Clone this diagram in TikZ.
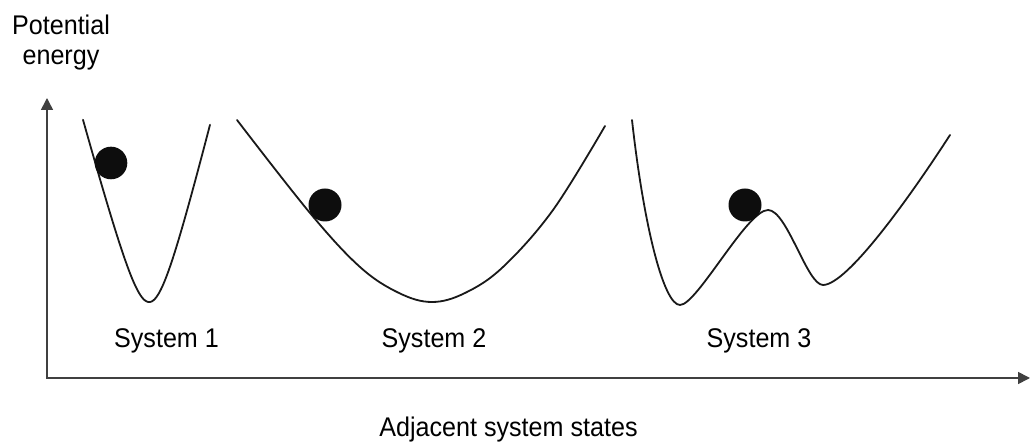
\documentclass[tikz,border=0pt]{standalone}
\usepackage{fontspec}
\setmainfont{Liberation Sans}
\usepackage{tikz}
\usetikzlibrary{arrows.meta, positioning}

\tikzset{
    curve/.style={line width=1.8pt, black!90, line cap=round, line join=round},
    ball/.style={fill=black!95},
    lbl/.style={inner sep=0pt, xscale=0.93, font=\fontsize{27}{30}\selectfont},
}

\begin{document}
\begin{tikzpicture}[x=1pt, y=1pt, >={Triangle[length=12pt, width=12pt]}]

    % =================================================================
    % 1. FRAME AND AXES (origin at the corner of the axes)
    % =================================================================
    \useasboundingbox (-47,-65) rectangle (985,378);
    \draw[<->, line width=1.6pt, black!75] (0,280) -- (0,0) -- (983,0);

    % =================================================================
    % 2. ENERGY CURVES OF THE THREE SYSTEMS
    % =================================================================
    % System 1: narrow, deep well (rounded V, minimum at x = 103)
    \draw[curve, samples=120, domain=36:163]
        plot (\x, {76 + 3.87*(sqrt((\x-103)^2 + 400) - 20) + 0.164*(\x-103)});

    % System 2: wide, shallow well
    \draw[curve] plot[smooth, tension=0.6] coordinates {
        (190,258) (263,165) (313,111) (352,85) (385,76) (418,85)
        (456,111) (506,168) (558,252)};

    % System 3: two wells separated by a barrier
    \draw[curve] (585,258) .. controls (597,150) and (617,73) .. (633,73)
        .. controls (650,73) and (700,168) .. (721,168)
        .. controls (740,168) and (760,93) .. (776,93)
        .. controls (800,93) and (863,181) .. (903,243);

    % --- the balls ---
    \fill[ball] (64,215) circle (16.3);
    \fill[ball] (278,173) circle (16.5);
    \fill[ball] (698,173) circle (16.5);

    % =================================================================
    % 3. LABELS
    % =================================================================
    \node[lbl, align=center, anchor=north] (ylab) at (14,363) {Potential\\energy};
    \node[lbl, anchor=base] (sys1) at (119.5,30) {System 1};
    \node[lbl, anchor=base] (sys2) at (387,30) {System 2};
    \node[lbl, anchor=base] (sys3) at (712,30) {System 3};
    \node[lbl, anchor=base] (xlab) at (461.5,-59) {Adjacent system states};

\end{tikzpicture}
\end{document}
